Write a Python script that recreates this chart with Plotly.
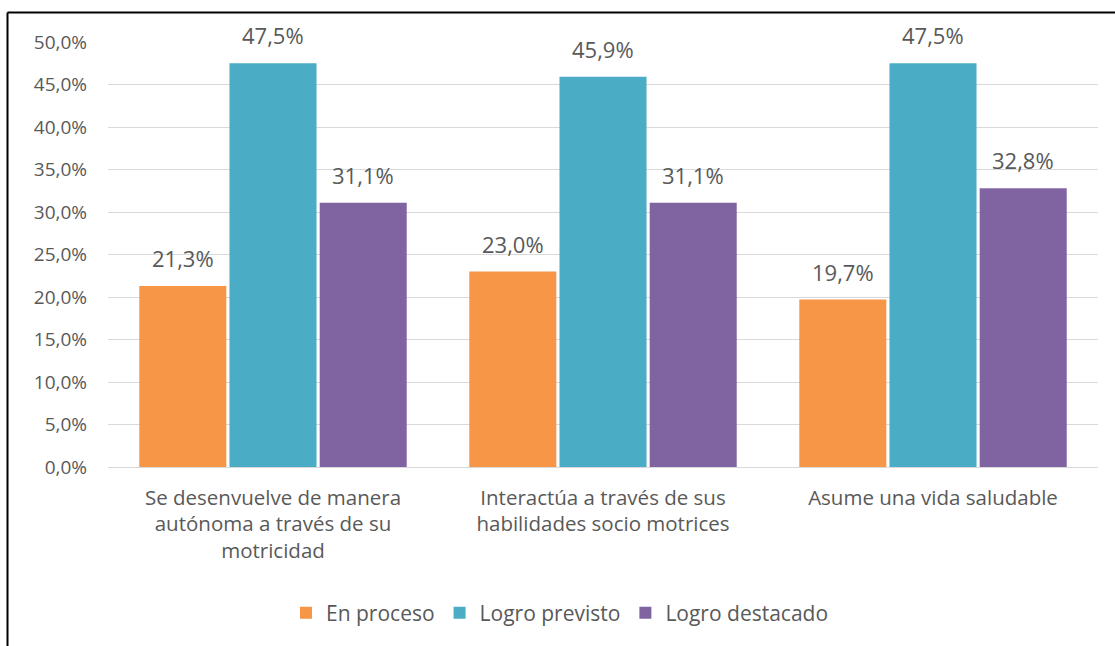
import plotly.graph_objects as go

categories = [
    "Se desenvuelve de manera<br>autónoma a través de su<br>motricidad",
    "Interactúa a través de sus<br>habilidades socio motrices",
    "Asume una vida saludable",
]
series_names = ["En proceso", "Logro previsto", "Logro destacado"]
en_proceso = [0.213, 0.230, 0.197]
logro_previsto = [0.475, 0.459, 0.475]
logro_destacado = [0.311, 0.311, 0.328]
colors = ["#F79646", "#4BACC6", "#8064A2"]
y_ticks = [0.0, 0.05, 0.10, 0.15, 0.20, 0.25, 0.30, 0.35, 0.40, 0.45, 0.50]

W, H = 1115, 646
ML, MT = 108, 42
plot_w = 1098 - 108
plot_h = 467 - 42
MR = W - ML - plot_w
MB = H - MT - plot_h
BARGAP = 0.18
FONT = "Open Sans"
GREY = "#595959"

fig = go.Figure()
all_series = [en_proceso, logro_previsto, logro_destacado]
for name, vals, col in zip(series_names, all_series, colors):
    fig.add_trace(go.Bar(
        name=name, x=categories, y=vals,
        marker=dict(color=col, line=dict(width=0)),
        hoverinfo="skip",
    ))

# value labels above bars
cat_px = plot_w / len(categories)
slot_px = cat_px * (1 - BARGAP) / len(series_names)
for i, vals in enumerate(all_series):
    xshift = (i - (len(series_names) - 1) / 2) * slot_px
    for c, v in zip(categories, vals):
        fig.add_annotation(
            x=c, y=v, xref="x", yref="y",
            text=f"{v*100:.1f}%".replace(".", ","),
            showarrow=False, xshift=xshift, yshift=11,
            yanchor="bottom", xanchor="center",
            font=dict(family=FONT, size=22, color=GREY),
        )

# outer border: only the top and left edges are visible in the picture
y_base = MT + plot_h
bx0 = (7.5 - ML) / plot_w
bx1 = (W - ML) / plot_w
by0 = -(H - y_base) / plot_h
by1 = (y_base - 12.5) / plot_h
for (xa, ya, xb, yb) in [(bx0, by1, bx1, by1), (bx0, by1, bx0, by0)]:
    fig.add_shape(
        type="line", xref="paper", yref="paper",
        x0=xa, y0=ya, x1=xb, y1=yb,
        line=dict(color="#000000", width=2), layer="above",
    )

fig.update_layout(
    width=W, height=H,
    margin=dict(l=ML, r=MR, t=MT, b=MB, autoexpand=False),
    paper_bgcolor="white", plot_bgcolor="white",
    barmode="group", bargap=BARGAP, bargroupgap=0.035,
    separators=",.",
    font=dict(family=FONT, color=GREY, size=18),
    showlegend=True,
    legend=dict(
        orientation="h", xanchor="center", yanchor="middle",
        x=(560 - 108) / plot_w, y=-(613 - 467) / plot_h,
        font=dict(family=FONT, size=21, color=GREY),
        itemwidth=30, traceorder="normal",
    ),
    xaxis=dict(
        showgrid=False, showline=True, linecolor="#D9D9D9", linewidth=1,
        ticks="", tickfont=dict(family=FONT, size=20.5, color=GREY),
        ticklabelstandoff=12,
    ),
    yaxis=dict(
        range=[0, 0.5], tickvals=y_ticks, tickformat=".1%",
        showgrid=True, gridcolor="#D9D9D9", gridwidth=1,
        zeroline=False, showline=False, ticks="",
        tickfont=dict(family=FONT, size=19, color=GREY),
        ticklabelstandoff=20,
    ),
)

fig.write_html(
    "out.html",
    config={"displayModeBar": False},
    post_script="document.body.style.margin='0px';document.body.style.overflow='hidden';",
)
